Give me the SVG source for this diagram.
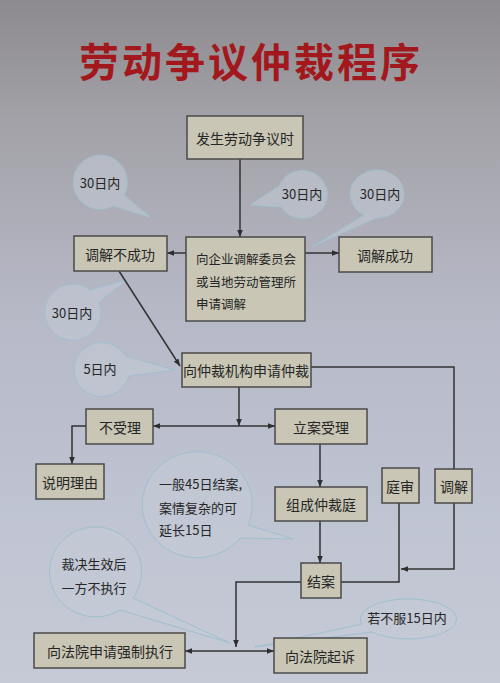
<svg xmlns="http://www.w3.org/2000/svg" width="500" height="683" viewBox="0 0 500 683">
<defs>
<linearGradient id="bg" x1="0" y1="0" x2="0" y2="1">
<stop offset="0" stop-color="#8c8a8e"/>
<stop offset="0.18" stop-color="#a3a2a8"/>
<stop offset="0.45" stop-color="#b6b8c6"/>
<stop offset="0.75" stop-color="#bfc4d2"/>
<stop offset="1" stop-color="#c6cad6"/>
</linearGradient>
<marker id="ah" viewBox="0 0 10 10" refX="10" refY="5" markerWidth="7" markerHeight="7" orient="auto" markerUnits="userSpaceOnUse">
<path d="M0,1 L10,5 L0,9 Z" fill="#2e2e2e"/>
</marker>
<marker id="ahs" viewBox="0 0 10 10" refX="0" refY="5" markerWidth="7" markerHeight="7" orient="auto" markerUnits="userSpaceOnUse">
<path d="M10,1 L0,5 L10,9 Z" fill="#2e2e2e"/>
</marker>
</defs>
<style>
.box{fill:#c9c6b5;stroke:#4a4a4a;stroke-width:1.5}
.t{font-family:"Noto Sans CJK SC","Noto Sans",sans-serif;font-size:14px;fill:#262626;text-anchor:middle;dominant-baseline:central}
.tl{text-anchor:start}
.bt{font-size:13px}
.sm{font-size:12.5px}
.bub{fill:#c2cad6;fill-opacity:0.55;stroke:#9fc0cf;stroke-width:1}
.ln{fill:none;stroke:#333;stroke-width:1.5}
.title{font-family:"Noto Sans CJK SC",sans-serif;font-weight:bold;font-size:40px;fill:#a3181c;text-anchor:middle;dominant-baseline:central;letter-spacing:3px}
</style>
<rect x="0" y="0" width="500" height="683" fill="url(#bg)"/>
<text class="title" x="251" y="60">劳动争议仲裁程序</text>

<g id="bubbles">
<g id="b1"><path class="bub" d="M124,195 A27,27 0 1 0 113,206 L150,217 Z"/><text class="t bt" x="100" y="182">30日内</text></g>
<g id="b2"><path class="bub" d="M279,186 A25,24 0 1 1 281,207 L250,205 Z"/><text class="t bt" x="302" y="193">30日内</text></g>
<g id="b3"><path class="bub" d="M364,215 A27,24 0 1 1 376,218 L312,247 Z"/><text class="t bt" x="380" y="193">30日内</text></g>
<g id="b4"><path class="bub" d="M90,290 A28,28 0 1 0 99,302 L127,280 Z"/><text class="t bt" x="72" y="312">30日内</text></g>
<g id="b5"><path class="bub" d="M126,356 A28,27 0 1 0 129,376 L175,370 Z"/><text class="t bt" x="100" y="368">5日内</text></g>
<g id="b6"><path class="bub" d="M248,525 A55,53 0 1 0 240,538 L293,539 Z"/>
<text class="t bt tl" x="159" y="483">一般45日结案,</text>
<text class="t bt tl" x="159" y="507">案情复杂的可</text>
<text class="t bt tl" x="159" y="529">延长15日</text></g>
<g id="b7"><path class="bub" d="M133,598 A46,45 0 1 0 120,610 L230,643 Z"/>
<text class="t bt" x="94" y="563">裁决生效后</text>
<text class="t bt" x="94" y="587">一方不执行</text></g>
<g id="b8"><path class="bub" d="M372,632 A48,20 0 1 0 362,624 L255,647 Z"/><text class="t bt" x="407" y="617">若不服15日内</text></g>
</g>

<g id="connectors">
<line class="ln" x1="240" y1="159" x2="240" y2="237" marker-end="url(#ah)"/>
<line class="ln" x1="186" y1="253" x2="167" y2="253" marker-end="url(#ah)"/>
<line class="ln" x1="305" y1="253" x2="339" y2="253" marker-end="url(#ah)"/>
<line class="ln" x1="119" y1="271" x2="180" y2="366" marker-end="url(#ah)"/>
<polyline class="ln" points="311,367 454,367 454,469"/>
<line class="ln" x1="239" y1="387" x2="239" y2="426" marker-end="url(#ah)"/>
<line class="ln" x1="153" y1="426" x2="275" y2="426" marker-start="url(#ahs)" marker-end="url(#ah)"/>
<polyline class="ln" points="86,426 72,426 72,464" marker-end="url(#ah)"/>
<line class="ln" x1="320" y1="444" x2="320" y2="487" marker-end="url(#ah)"/>
<line class="ln" x1="320" y1="521" x2="320" y2="563" marker-end="url(#ah)"/>
<polyline class="ln" points="399,503 399,582 341,582"/>
<polyline class="ln" points="454,503 454,569 401,569" marker-end="url(#ah)"/>
<polyline class="ln" points="301,582 236,582 236,647" marker-end="url(#ah)"/>
<line class="ln" x1="185" y1="651" x2="274" y2="651" marker-start="url(#ahs)" marker-end="url(#ah)"/>
</g>

<g id="n1"><rect class="box" x="187" y="116" width="116" height="43"/><text class="t" x="245" y="138">发生劳动争议时</text></g>
<g id="n2"><rect class="box" x="74" y="236" width="93" height="35"/><text class="t" x="120" y="254">调解不成功</text></g>
<g id="n3"><rect class="box" x="186" y="237" width="119" height="84"/>
<text class="t sm tl" x="196" y="258">向企业调解委员会</text>
<text class="t sm tl" x="196" y="281">或当地劳动管理所</text>
<text class="t sm tl" x="196" y="303">申请调解</text></g>
<g id="n4"><rect class="box" x="339" y="237" width="93" height="35"/><text class="t" x="385" y="255">调解成功</text></g>
<g id="n5"><rect class="box" x="182" y="353" width="129" height="34"/><text class="t" x="246" y="370">向仲裁机构申请仲裁</text></g>
<g id="n6"><rect class="box" x="86" y="409" width="67" height="35"/><text class="t" x="120" y="427">不受理</text></g>
<g id="n7"><rect class="box" x="275" y="409" width="92" height="35"/><text class="t" x="321" y="427">立案受理</text></g>
<g id="n8"><rect class="box" x="36" y="464" width="68" height="35"/><text class="t" x="70" y="482">说明理由</text></g>
<g id="n9"><rect class="box" x="275" y="487" width="92" height="34"/><text class="t" x="321" y="504">组成仲裁庭</text></g>
<g id="n10"><rect class="box" x="382" y="468" width="37" height="35"/><text class="t" x="400" y="486">庭审</text></g>
<g id="n11"><rect class="box" x="435" y="469" width="37" height="34"/><text class="t" x="454" y="486">调解</text></g>
<g id="n12"><rect class="box" x="301" y="563" width="40" height="35"/><text class="t" x="321" y="581">结案</text></g>
<g id="n13"><rect class="box" x="34" y="633" width="151" height="35"/><text class="t" x="110" y="651">向法院申请强制执行</text></g>
<g id="n14"><rect class="box" x="274" y="638" width="93" height="35"/><text class="t" x="320" y="656">向法院起诉</text></g>
</svg>
